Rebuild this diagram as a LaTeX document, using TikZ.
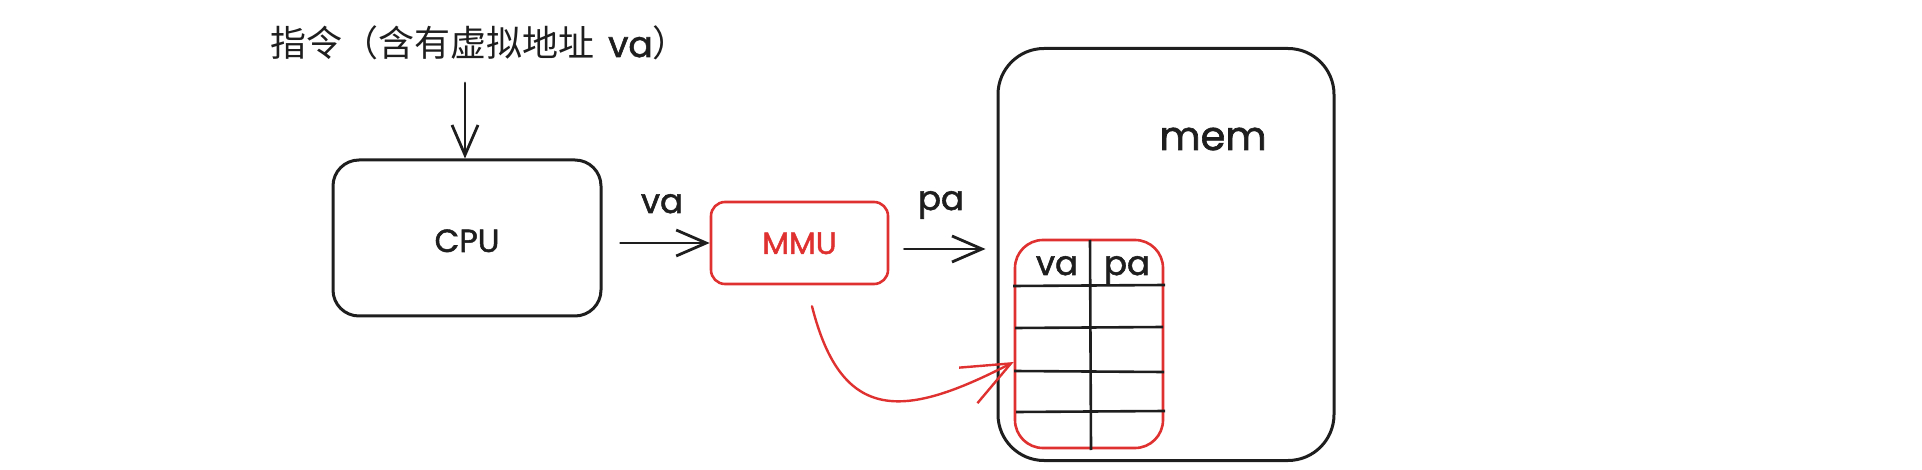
\documentclass[tikz,border=0pt]{standalone}
\usepackage{fontspec}
\newfontfamily\cjk{Noto Sans CJK SC}
\newfontfamily\hand[FakeBold=1.6]{Poppins}
\usetikzlibrary{arrows.meta}
\definecolor{ink}{HTML}{1E1E1E}
\definecolor{exred}{HTML}{E03131}
\begin{document}
\begin{tikzpicture}[x=1pt,y=-1pt,
  blackbox/.style={draw=ink, line width=3pt, rounded corners=#1, inner sep=0pt},
  redbox/.style={draw=exred, line width=2.6pt, rounded corners=#1, inner sep=0pt},
  lbl/.style={text=ink, inner sep=0pt, anchor=base, font=\hand\fontsize{#1}{#1}\selectfont},
  arr/.style={draw=ink, line width=2.8pt, line cap=round, -{Straight Barb[length=30pt,width=26pt]}},
  redarr/.style={draw=exred, line width=2.4pt, line cap=round, -{Straight Barb[length=48pt,width=40pt]}},
  grid/.style={draw=ink, line width=2.6pt}
]
\useasboundingbox (0,0) rectangle (1922,470);
% title
\node[anchor=base west, inner sep=0pt, text=ink, font=\cjk\fontsize{36}{40}\selectfont] (title) at (270,57) {指令（含有虚拟地址\hspace{14pt}{\hand va}）};
% boxes
\node[blackbox=26pt, minimum width=268pt, minimum height=156pt] (cpu) at (467,238) {};
\node[lbl=32] (cpulbl) at (467,252) {CPU};
\node[redbox=14pt, minimum width=177pt, minimum height=82pt] (mmu) at (799.5,243) {};
\node[lbl=31, text=exred] (mmulbl) at (799.5,254) {MMU};
\node[blackbox=46pt, minimum width=336pt, minimum height=412pt] (mem) at (1166,254.5) {};
\node[lbl=40] (memlbl) at (1213,150) {mem};
\node[redbox=28pt, minimum width=148pt, minimum height=208pt] (tbl) at (1089,344) {};
% table grid
\draw[grid] (1013,286) -- (1165,285);
\draw[grid] (1015,328) -- (1163,327);
\draw[grid] (1014,371) -- (1164,372);
\draw[grid] (1016,412) -- (1165,411);
\draw[grid] (1090,240) -- (1091,450);
\node[lbl=34] (hva) at (1057,275) {va};
\node[lbl=34] (hpa) at (1127,275) {pa};
% arrows
\coordinate (topin) at (465,83);
\draw[arr] (topin) -- (topin |- cpu.north);
\draw[arr, shorten <=18pt] (cpu.east |- mmu.west) -- (mmu.west);
\node[lbl=34] (valbl) at (662,213) {va};
\draw[arr, shorten <=15pt, shorten >=11pt] ([yshift=-6pt]mmu.east) -- ([yshift=-6pt]mem.west |- mmu.east);
\node[lbl=34] (palbl) at (941,210) {pa};
\draw[redarr] ([xshift=12.5pt,yshift=-21pt]mmu.south) .. controls (842,425) and (905,418) .. ([yshift=-18pt]tbl.west);
\end{tikzpicture}
\end{document}
